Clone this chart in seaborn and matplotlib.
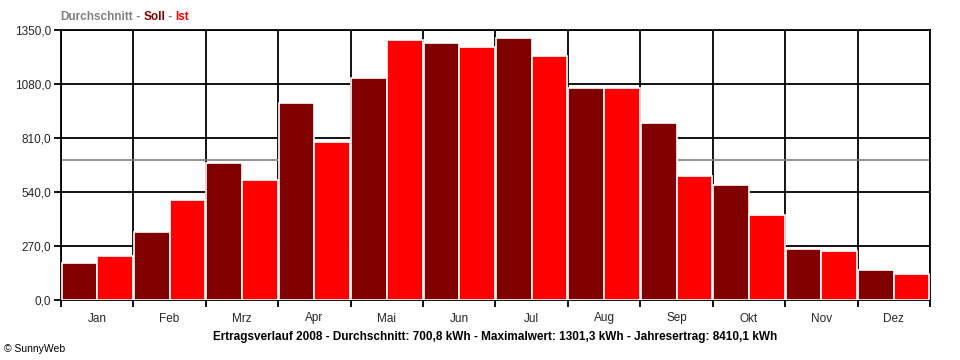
import numpy as np
import pandas as pd
import seaborn as sns
import matplotlib.pyplot as plt

months = ["Jan", "Feb", "Mrz", "Apr", "Mai", "Jun", "Jul", "Aug", "Sep", "Okt", "Nov", "Dez"]
soll = [185, 340, 685, 985, 1110, 1285, 1310, 1062, 885, 575, 255, 150]
ist = [222, 502, 598, 792, 1301.3, 1267, 1218, 1062, 622, 424, 243, 128]
durchschnitt = 700.8
y_ticks = [0, 270, 540, 810, 1080, 1350]
y_labels = ["0,0", "270,0", "540,0", "810,0", "1080,0", "1350,0"]
caption = ("Ertragsverlauf 2008 - Durchschnitt: 700,8 kWh - Maximalwert: 1301,3 kWh"
           " - Jahresertrag: 8410,1 kWh")

df = pd.DataFrame({
    "Monat": months * 2,
    "Serie": ["Soll"] * 12 + ["Ist"] * 12,
    "Wert": soll + ist,
})

sns.set_style("white")
plt.rcParams["font.family"] = ["Liberation Sans", "DejaVu Sans"]

W, H = 960, 360
fig = plt.figure(figsize=(W / 100, H / 100), dpi=100)
ax = fig.add_axes([61 / W, 60 / H, 869 / W, 270 / H])

sns.barplot(data=df, x="Monat", y="Wert", hue="Serie", order=months,
            hue_order=["Soll", "Ist"], palette={"Soll": "#800000", "Ist": "#ff0000"},
            saturation=1, width=0.985, edgecolor="white", linewidth=1.2,
            legend=False, ax=ax, zorder=3)

ax.set_xlim(-0.5, 11.5)
ax.set_ylim(0, 1350)

# grid: horizontal at ticks, vertical at month boundaries
for y in y_ticks:
    ax.axhline(y, color="black", lw=1.3, zorder=1)
for b in np.arange(-0.5, 12, 1):
    ax.axvline(b, color="black", lw=1.3, zorder=1)
ax.axhline(durchschnitt, color="#808080", lw=1.2, zorder=2)

ax.set_yticks(y_ticks)
ax.set_yticklabels(y_labels)
ax.set_xticks(range(12))
ax.set_xticklabels(months)
ax.set_xticks(np.arange(-0.5, 12, 1), minor=True)
ax.tick_params(axis="x", which="major", length=0, pad=9, labelsize=8.5)
ax.tick_params(axis="x", which="minor", length=5, width=1.3, color="black", direction="out")
ax.tick_params(axis="y", length=5, width=1.3, color="black", direction="out", pad=2, labelsize=8.5)
ax.tick_params(left=True, bottom=True, which="both")
ax.set_xlabel("")
ax.set_ylabel("")
for s in ax.spines.values():
    s.set_color("black")
    s.set_linewidth(1.3)

# title pieces in colours
fig.canvas.draw()
renderer = fig.canvas.get_renderer()
parts = [("Durchschnitt", "#808080"), (" - ", "#808080"), ("Soll", "#800000"),
         (" - ", "#808080"), ("Ist", "#ff0000")]
x = 60
for txt, col in parts:
    t = fig.text(x / W, 1 - 17 / H, txt, color=col, fontweight="bold", fontsize=8.5,
                 va="center", ha="left")
    bb = t.get_window_extent(renderer)
    x += bb.width

fig.text((61 + 930) / 2 / W, 1 - 337 / H, caption, ha="center", va="center",
         fontweight="bold", fontsize=8.5, color="black")
fig.text(4 / W, 1 - 349 / H, "\u00a9 SunnyWeb", ha="left", va="center",
         fontsize=7.5, color="black")

fig.savefig("out.png", dpi=100, facecolor="white")
